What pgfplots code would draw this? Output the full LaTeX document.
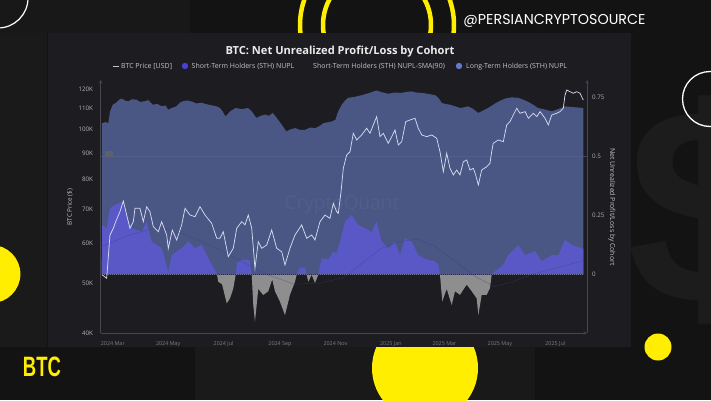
\documentclass[border=0pt]{standalone}
\usepackage{graphicx}
\usepackage{pgfplots}
\usepackage{pgfplotstable}
\pgfplotsset{compat=1.18}
\usepackage{fontspec}
\setmainfont{Open Sans}
\newfontfamily\handlefont{Poppins}
\newfontfamily\btcfont{Liberation Sans}

\definecolor{bgc}{HTML}{131313}
\definecolor{blockc}{HTML}{1A1A1A}
\definecolor{dollarc}{HTML}{1C1C1C}
\definecolor{panelc}{HTML}{1C1C21}
\definecolor{yel}{HTML}{FFEE00}
\definecolor{lthc}{HTML}{4A5784}
\definecolor{sthc}{HTML}{5A58C6}
\definecolor{negc}{HTML}{8E8E8E}
\definecolor{smac}{HTML}{3C3A8A}
\definecolor{pricec}{HTML}{D4D8F0}
\definecolor{axisc}{HTML}{46464C}
\definecolor{gridc}{HTML}{56638F}
\definecolor{zeroc}{HTML}{2C2C44}
\definecolor{tickc}{HTML}{B4B4B4}
\definecolor{xtickc}{HTML}{808080}
\definecolor{legc}{HTML}{C4C4C4}
\definecolor{sthdot}{HTML}{4B3FD6}
\definecolor{lthdot}{HTML}{6678C8}
\definecolor{wmc}{HTML}{515E8A}
\definecolor{boxc}{HTML}{5E6072}

% x = days since 2024-03-01
% long-term holders NUPL
\pgfplotstableread{
d v
-12 0
-12 0.641
-8 0.645
-5 0.641
-3 0.691
0 0.719
4 0.728
7 0.740
10 0.745
13 0.737
17 0.733
21 0.742
26 0.740
30 0.731
35 0.733
39 0.738
44 0.719
49 0.722
54 0.712
58 0.716
61 0.698
65 0.705
70 0.712
74 0.728
77 0.733
82 0.737
87 0.732
92 0.724
98 0.727
103 0.721
109 0.716
114 0.712
118 0.705
121 0.690
124 0.669
129 0.690
135 0.705
142 0.700
149 0.705
153 0.690
158 0.663
163 0.672
168 0.677
172 0.672
176 0.684
181 0.660
186 0.634
191 0.606
196 0.615
201 0.620
206 0.612
212 0.613
217 0.622
223 0.620
228 0.630
232 0.641
237 0.645
241 0.648
245 0.655
248 0.690
252 0.719
256 0.738
259 0.748
266 0.752
274 0.759
282 0.768
290 0.779
296 0.772
303 0.765
310 0.770
318 0.769
323 0.773
329 0.775
334 0.770
340 0.769
348 0.764
355 0.759
359 0.745
362 0.726
366 0.722
371 0.719
377 0.712
382 0.705
387 0.708
391 0.712
397 0.700
402 0.684
408 0.695
413 0.705
420 0.722
426 0.735
432 0.745
439 0.750
446 0.748
452 0.740
457 0.731
463 0.718
468 0.705
476 0.698
483 0.691
490 0.700
498 0.712
505 0.709
512 0.707
518 0.705
518 0
}\lth

% short-term holders NUPL
\pgfplotstableread{
d v
-12.4 0
-11.6 0.21
-6.7 0.197
-3.1 0.281
2.4 0.295
9.8 0.309
15.3 0.253
20.8 0.197
31.8 0.182
37.3 0.225
42.8 0.140
53.8 0.112
61.1 0.013
64.8 0.083
75.8 0.112
83.1 0.140
90.5 0.112
97.8 0.126
107.0 0.055
114.4 0.006
116.1 -0.03
120.2 -0.04
125.4 -0.121
129.0 -0.100
132.6 -0.058
135.3 0.0
136.7 0.05
143.3 0.065
151.0 0.06
152.9 0.0
154.6 -0.128
156.5 -0.199
160.1 -0.06
165.6 -0.086
171.1 -0.07
175.5 -0.02
178.5 -0.07
184.0 -0.114
189.5 -0.171
195.0 -0.085
200.5 -0.03
202.4 0.0
206.0 0.03
211.5 0.03
215.2 -0.03
218.9 0.0
222.5 -0.035
226.2 0.0
229.9 0.07
237.2 0.064
242.7 0.097
246.0 0.09
250.1 0.14
255.6 0.225
262.9 0.253
270.2 0.21
277.6 0.197
284.9 0.18
290.4 0.225
296.0 0.14
303.2 0.112
310.6 0.14
316.1 0.083
321.6 0.154
329.0 0.14
336.2 0.083
345.5 0.064
354.6 0.057
358.3 0.042
360.1 0.0
362.6 -0.113
367.5 -0.06
373.0 -0.128
376.6 -0.07
382.1 -0.085
389.5 -0.042
395.0 -0.07
400.5 -0.10
402.3 -0.171
406.0 -0.085
411.5 -0.085
415.1 -0.057
417.0 0.0
420.6 0.014
429.8 0.042
435.3 0.083
446.3 0.126
453.7 0.083
464.7 0.10
472.0 0.057
483.1 0.083
490.3 0.083
497.7 0.147
505.1 0.126
517.8 0.11
517.9 0
}\sth

% STH NUPL, 90-day SMA
\pgfplotstableread{
d v
-12 0.12
20 0.17
50 0.20
80 0.17
110 0.12
140 0.06
170 0.0
200 -0.04
230 -0.035
255 -0.01
275 0.05
295 0.11
315 0.14
335 0.15
355 0.12
375 0.06
400 -0.01
420 -0.05
440 -0.03
460 0.0
490 0.03
518 0.06
}\sma

% BTC price, USD
\pgfplotstableread{
d p
-11.6 51960
-6.7 51190
-3.1 62210
0.6 64120
3.2 66060
7.9 69100
11.6 72510
15.3 68070
18.9 64120
22.6 66060
24.4 70160
29.9 70160
33.6 66060
37.3 70670
40.9 69100
44.6 64580
50.1 63140
53.8 66060
59.3 62210
61.1 58590
65.5 63630
70.3 60820
75.8 65090
79.5 70160
85.0 68070
90.5 67560
96.0 70670
101.5 68070
108.8 65590
114.4 61290
118.0 61290
121.6 63140
127.1 56410
132.6 58590
136.4 64120
141.9 66060
145.5 65090
149.1 68070
152.9 64120
156.5 53540
160.1 60360
163.9 58590
169.4 59470
174.9 63630
180.4 58590
185.9 57700
189.5 54340
195.0 58590
200.5 62210
207.9 65090
213.4 61290
218.9 62210
222.5 60820
228.0 66060
233.5 68070
239.0 67070
242.7 71760
246.4 69100
248.2 68590
251.2 75610
253.7 84020
257.4 89200
261.1 90540
264.7 98380
268.5 95460
273.9 97640
279.4 100630
283.1 98380
286.7 102130
290.4 106040
294.1 96900
297.7 98380
303.2 94040
307.0 96900
310.6 99870
314.2 93340
318.0 94740
322.4 103670
327.1 104460
332.6 105280
336.2 100630
340.0 97640
345.5 96900
351.0 97640
356.5 96180
360.1 90540
363.8 82740
367.5 89890
371.1 84020
374.8 81520
378.5 83380
382.1 81520
385.8 86550
389.5 87230
393.1 83380
396.8 84020
399.4 81520
402.3 77930
406.0 83380
411.5 84630
415.1 85940
417.0 90540
418.7 94040
424.2 95460
429.8 94740
433.5 102130
437.1 103670
444.5 110120
448.1 107660
453.7 108460
457.3 105280
462.8 107660
466.6 106040
470.2 108460
475.7 105280
479.3 102130
483.1 106840
488.6 107660
492.2 108460
495.8 110120
497.7 116910
499.6 119560
503.2 118660
506.8 117810
510.6 118660
514.2 117810
517.8 114300
}\price

\pgfplotsset{
  cq/.style={
    at={(100.7pt,67pt)}, anchor=south west,
    scale only axis, width=486.3pt, height=253pt,
    xmin=-13.3, xmax=521.9,
    major tick length=0pt, tick style={draw=none},
    axis line style={draw=axisc, line width=0.6pt, -},
  }
}

\begin{document}
\begin{tikzpicture}[x=1pt,y=1pt]
\useasboundingbox (0,0) rectangle (711,400);
\fill[bgc] (0,0) rectangle (711,400);
\fill[blockc] (0,53) rectangle (47,367);
\fill[blockc] (195,0) rectangle (340,53);
\fill[blockc!85!bgc] (340,0) rectangle (535,53);
\fill[blockc!70!bgc] (0,367) rectangle (190,400);

% big dollar sign behind the panel
\node[text=dollarc, font=\btcfont\bfseries\fontsize{280}{280}\selectfont] at (705,190) {\$};

% yellow shapes behind the panel
\fill[yel] (425,32) circle (53);
\draw[yel, line width=4.5pt] (377,375) ++(150:77) arc (150:205:77);
\draw[yel, line width=4.5pt] (377,375) ++(150:54) arc (150:205:54);
\draw[yel, line width=4.5pt] (377,375) ++(-25:54) arc (-25:30:54);
\draw[yel, line width=4.5pt] (377,375) ++(-25:77) arc (-25:30:77);

% chart panel
\fill[panelc] (47.5,53) rectangle (631,367);

% NUPL axis (right)
\begin{axis}[cq,
  ymin=-0.2465, ymax=0.8233,
  axis x line=bottom, axis y line=right,
  xtick={0,61,122,184,245,306,365,426,487},
  xticklabels={2024 Mar,2024 May,2024 Jul,2024 Sep,2024 Nov,2025 Jan,2025 Mar,2025 May,2025 Jul},
  xticklabel style={anchor=north, inner sep=0pt, yshift=-8pt, text=xtickc, font=\fontsize{5.4}{6}\selectfont},
  ytick={0,0.25,0.5,0.75},
  yticklabels={0,0.25,0.5,0.75},
  yticklabel style={anchor=west, inner sep=0pt, xshift=5pt, text=tickc, font=\fontsize{6.2}{7}\selectfont},
]
\addplot[draw=none, fill=lthc] table[x=d, y=v] {\lth};
\begin{scope}
\clip (axis cs:-20,0) rectangle (axis cs:530,1);
\addplot[draw=none, fill=sthc] table[x=d, y=v] {\sth};
\end{scope}
\begin{scope}
\clip (axis cs:-20,-1) rectangle (axis cs:530,0);
\addplot[draw=none, fill=negc] table[x=d, y=v] {\sth};
\end{scope}
\addplot[gridc, line width=0.4pt, opacity=0.6] coordinates {(-13.3,0.5) (521.9,0.5)};
\addplot[zeroc, line width=0.6pt, dash pattern=on 1pt off 1pt] coordinates {(-13.3,0) (518,0)};
\addplot[smac, line width=0.5pt, opacity=0.45] table[x=d, y=v] {\sma};
\end{axis}

% watermark
\node[text=wmc, font=\fontsize{19}{19}\selectfont] at (342,195) {CryptoQuant};
\fill[boxc, rounded corners=1pt] (105,243) rectangle (113,249);

% price axis (left, log)
\begin{axis}[cq,
  ymode=log, ymin=40000, ymax=125100,
  axis x line=none, axis y line=left, xtick=\empty,
  ytick={40000,50000,60000,70000,80000,90000,100000,110000,120000},
  yticklabels={40K,50K,60K,70K,80K,90K,100K,110K,120K},
  yticklabel style={anchor=east, inner sep=0pt, xshift=-7.5pt, text=tickc, font=\fontsize{6.2}{7}\selectfont},
]
\addplot[pricec, line width=0.75pt] table[x=d, y=p] {\price};
\end{axis}

% title and legend
\node[anchor=base, text=white!92!black, font=\bfseries\fontsize{11.1}{13}\selectfont] at (340,346) {BTC: Net Unrealized Profit/Loss by Cohort};
\begin{scope}[every node/.style={anchor=base west, inner sep=0pt, text=legc, font=\fontsize{7}{8}\selectfont}]
\draw[legc, line width=0.8pt] (112.5,334) -- (118.8,334);
\node at (121,331.6) {BTC Price [USD]};
\fill[sthdot] (185,334) circle (3.2);
\node at (191.5,331.6) {Short-Term Holders (STH) NUPL};
\node at (313,331.6) {Short-Term Holders (STH) NUPL-SMA(90)};
\fill[lthdot] (459,334) circle (3.2);
\node at (466,331.6) {Long-Term Holders (STH) NUPL};
\end{scope}

% axis titles
\node[rotate=90, text=legc, font=\fontsize{6.3}{7}\selectfont] at (70,193) {BTC Price (\$)};
\node[rotate=-90, text=legc, font=\fontsize{6.9}{8}\selectfont] at (612,193) {Net Unrealized Profit/Loss by Cohort};

% decorations outside the panel
\fill[yel] (-8.6,126) circle (29);
\fill[yel] (658,53) circle (13.5);
\draw[white, line width=1.3pt] (710,301) circle (27.5);
\draw[white, line width=1.2pt] (-2,402) circle (30);

\node[anchor=base, text=white, font=\handlefont\fontsize{14.3}{15}\selectfont] at (554.5,375) {@PERSIANCRYPTOSOURCE};
\node[text=yel, font=\btcfont\bfseries\fontsize{28}{28}\selectfont] at (41.9,33) {\scalebox{0.66}[1]{BTC}};
\end{tikzpicture}
\end{document}
